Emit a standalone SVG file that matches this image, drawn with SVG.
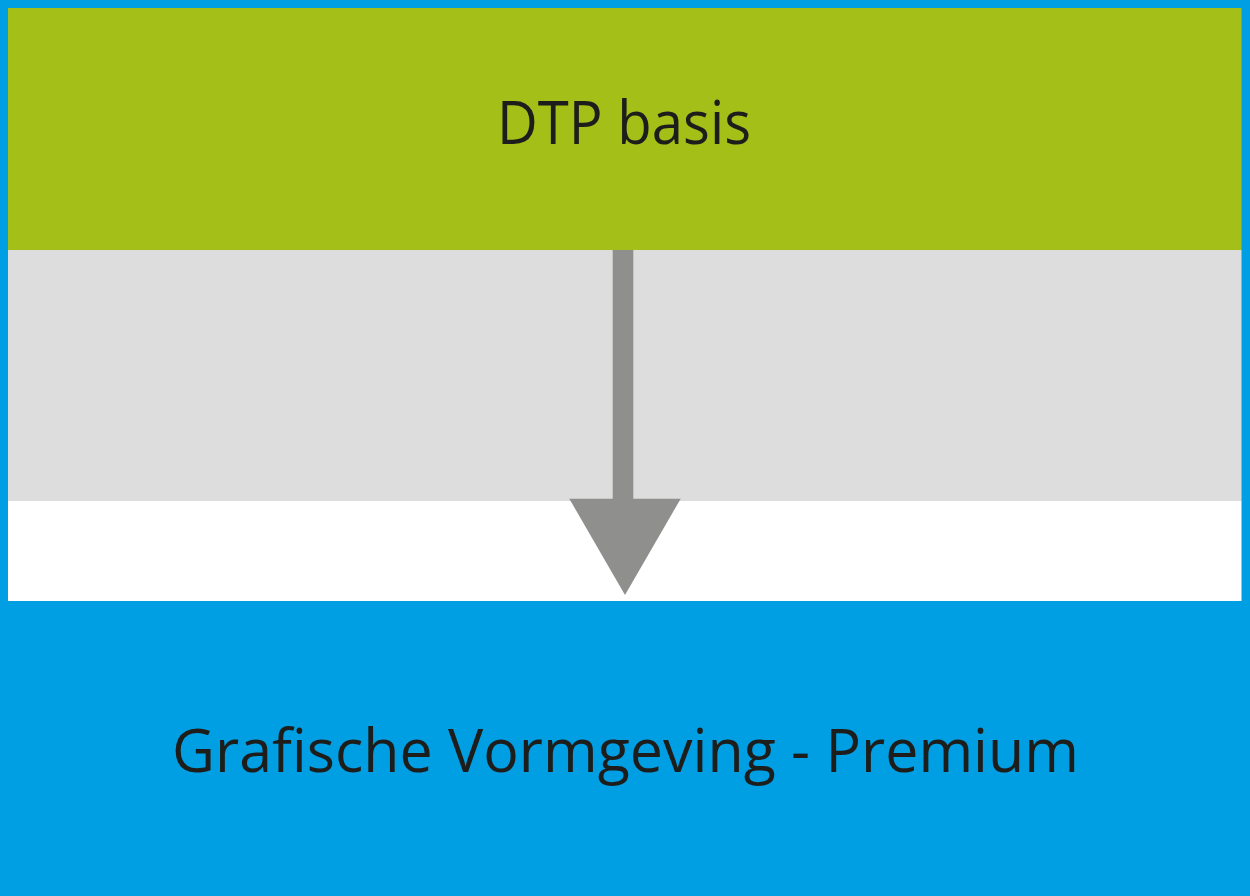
<svg xmlns="http://www.w3.org/2000/svg" width="1250" height="896" viewBox="0 0 1250 896">
<style>
.lbl{font-family:"Open Sans","Noto Sans","Liberation Sans",sans-serif;font-size:61px;fill:#1d1d1b;text-anchor:middle}
</style>
<rect x="0" y="0" width="1250" height="896" fill="#009fe3"/>
<rect x="8" y="250" width="1233.5" height="251" fill="#dddddd"/>
<rect x="8" y="501" width="1233.5" height="100" fill="#ffffff"/>
<g id="node-dtp">
<rect x="8" y="8" width="1233.5" height="242" fill="#a4bf18"/>
<text class="lbl" x="624" y="143.5" textLength="254" lengthAdjust="spacingAndGlyphs">DTP basis</text>
</g>
<g id="node-premium">
<rect x="0" y="601" width="1250" height="295" fill="#009fe3"/>
<text class="lbl" x="625.5" y="772" textLength="907" lengthAdjust="spacingAndGlyphs">Grafische Vormgeving - Premium</text>
</g>
<g id="connectors">
<rect x="612.7" y="250" width="20.6" height="249" fill="#8f8f8d"/>
<polygon points="569.3,498.7 680.7,498.7 625,595" fill="#8f8f8d"/>
</g>
</svg>
